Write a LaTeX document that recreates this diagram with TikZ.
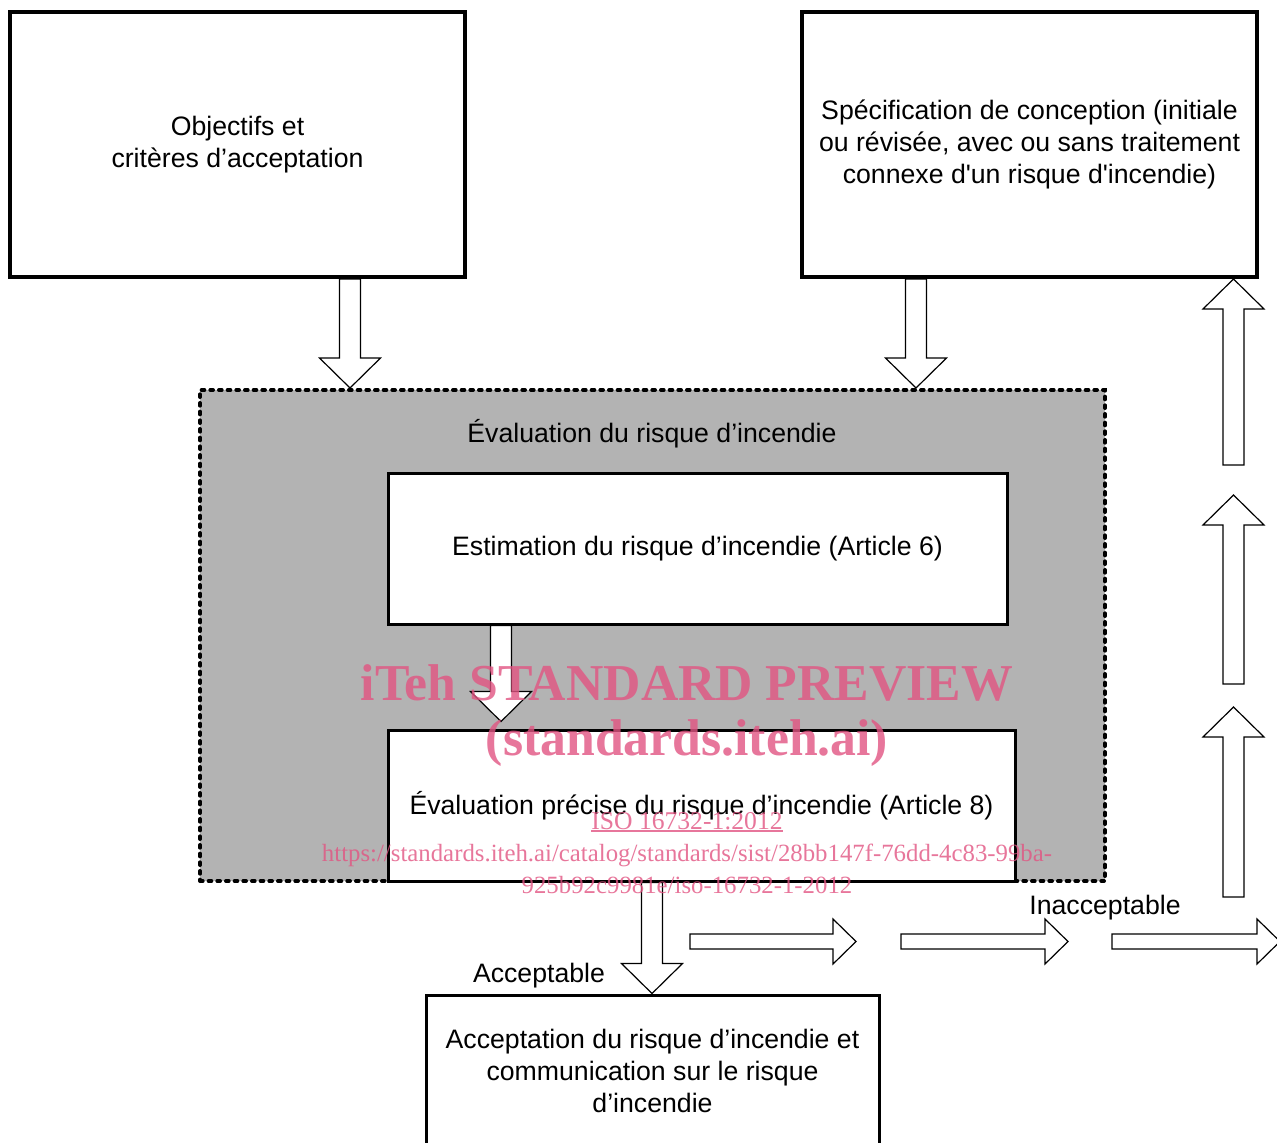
\documentclass[tikz,border=0pt]{standalone}
\usepackage{fontspec}
\setmainfont{Liberation Sans}
\newfontfamily\wmfont{Liberation Serif}
\usetikzlibrary{calc}
\pgfdeclarelayer{back}\pgfdeclarelayer{mid}\pgfdeclarelayer{fore}
\pgfsetlayers{back,mid,main,fore}
\definecolor{regiongray}{RGB}{179,179,179}
\definecolor{wmpink}{RGB}{226,84,130}
\newcommand\mfont{\fontsize{20}{24}\selectfont}
% block arrow: #1 start, #2 tip, #3 shaft half width, #4 head half width, #5 head length
\newcommand\blkarrow[5]{%
  \path ($(#2)!#5!(#1)$) coordinate (hb);
  \draw[blockarrow] ($(#1)!#3!90:(#2)$) -- ($(hb)!#3!90:(#2)$) -- ($(hb)!#4!90:(#2)$)
    -- (#2) -- ($(hb)!#4!-90:(#2)$) -- ($(hb)!#3!-90:(#2)$) -- ($(#1)!#3!-90:(#2)$) -- cycle;}
\begin{document}
\begin{tikzpicture}[x=0.75pt,y=-0.75pt,
  box/.style={draw, line width=#1, fill=white, align=center, inner sep=0pt, font=\mfont},
  box/.default=2.25pt,
  blockarrow/.style={draw=black, fill=white, line width=0.9pt, line join=miter},
  lbl/.style={font=\mfont, inner sep=0pt},
  wm/.style={text=wmpink, text opacity=0.8, inner sep=0pt, align=center}]
\path[use as bounding box] (0,0) rectangle (1277,1142);

% shaded evaluation region
\begin{pgfonlayer}{back}
\node[name=G, draw, fill=regiongray, line width=3pt, dash pattern=on 2pt off 4.5pt, line cap=round,
      minimum width=678.75pt, minimum height=368.25pt, inner sep=0pt] at (652.5,635.5) {};
\end{pgfonlayer}

% boxes
\node[box=3pt, minimum width=341.25pt, minimum height=198.75pt] (A) at (237.5,144.5)
  {\rule{0pt}{0pt}\raisebox{-1.5pt}{\parbox{330pt}{\centering Objectifs et\\critères d’acceptation}}};
\node[box=3pt, minimum width=341.25pt, minimum height=198.75pt] (B) at (1029.5,144.5)
  {\raisebox{-1.5pt}{\parbox{335pt}{\centering Spécification de conception (initiale\\ou révisée, avec ou sans traitement\\connexe d\textquotesingle un risque d\textquotesingle incendie)}}};
\node[lbl] (T) at (652,434) {Évaluation du risque d’incendie};
\node[box, minimum width=464.25pt, minimum height=113.25pt] (C) at (697.5,548.5)
  {\raisebox{-1.5pt}{Estimation du risque d’incendie (Article 6)}};
\node[box, minimum width=470.25pt, minimum height=113.25pt] (D) at (701.5,805.5)
  {Évaluation précise du risque d’incendie (Article 8)};
\node[box, minimum width=339.75pt, minimum height=114pt] (E) at (652.5,1071)
  {Acceptation du risque d’incendie et\\communication sur le risque\\d’incendie};
\node[lbl] (Lacc) at (539,976) {Acceptable};
\node[lbl] (Linacc) at (1105,908) {Inacceptable};

% arrow end points
\coordinate (s1) at ($(A.south)+(112.5,0)$);  \coordinate (t1) at (s1 |- G.north);
\coordinate (s2) at ($(B.south)+(-113.5,0)$); \coordinate (t2) at (s2 |- G.north);
\coordinate (s3) at ($(C.south)+(-196.5,0)$); \coordinate (t3) at ($(s3 |- D.north)+(0,-7)$);
\coordinate (s4) at ($(D.south)+(-49.5,0)$);  \coordinate (t4) at (s4 |- E.north);
\coordinate (h1s) at (690,941.5);  \coordinate (h1t) at (856,941.5);
\coordinate (h2s) at (901,941.5);  \coordinate (h2t) at (1068,941.5);
\coordinate (h3s) at (1112,941.5); \coordinate (h3t) at (1280,941.5);
\coordinate (u1s) at (1233.5,465); \coordinate (u1t) at (u1s |- B.south);
\coordinate (u2s) at (1233.5,684); \coordinate (u2t) at (1233.5,495);
\coordinate (u3s) at (1233.5,897); \coordinate (u3t) at (1233.5,707);

\begin{pgfonlayer}{mid}
\blkarrow{s1}{t1}{7.875pt}{22.875pt}{22.5pt}
\blkarrow{s2}{t2}{7.875pt}{22.875pt}{22.5pt}
\blkarrow{s3}{t3}{7.875pt}{22.875pt}{22.5pt}
\blkarrow{s4}{t4}{7.875pt}{22.875pt}{22.5pt}
\blkarrow{h1s}{h1t}{5.625pt}{16.875pt}{17.25pt}
\blkarrow{h2s}{h2t}{5.625pt}{16.875pt}{17.25pt}
\blkarrow{h3s}{h3t}{5.625pt}{16.875pt}{17.25pt}
\blkarrow{u1s}{u1t}{7.875pt}{22.875pt}{22.5pt}
\blkarrow{u2s}{u2t}{7.875pt}{22.875pt}{22.5pt}
\blkarrow{u3s}{u3t}{7.875pt}{22.875pt}{22.5pt}
\end{pgfonlayer}

% watermark
\begin{pgfonlayer}{fore}
\node[wm, font=\wmfont\bfseries\fontsize{38.8}{40}\selectfont] (W1) at (687,683) {iTeh STANDARD PREVIEW};
\node[wm, font=\wmfont\bfseries\fontsize{38.8}{40}\selectfont] (W2) at (687,743) {(standards.iteh.ai)};
\node[wm, font=\wmfont\fontsize{19.2}{24}\selectfont] (W3) at (687,821) {ISO 16732-1:2012};
\draw[wmpink, opacity=0.8, line width=0.8pt] ($(W3.south west)+(0,1)$) -- ($(W3.south east)+(0,1)$);
\node[wm, font=\wmfont\fontsize{18.6}{24}\selectfont] (W4) at (687,869)
  {https://standards.iteh.ai/catalog/standards/sist/28bb147f-76dd-4c83-99ba-\\925b92c9981e/iso-16732-1-2012};
\end{pgfonlayer}
\end{tikzpicture}
\end{document}
